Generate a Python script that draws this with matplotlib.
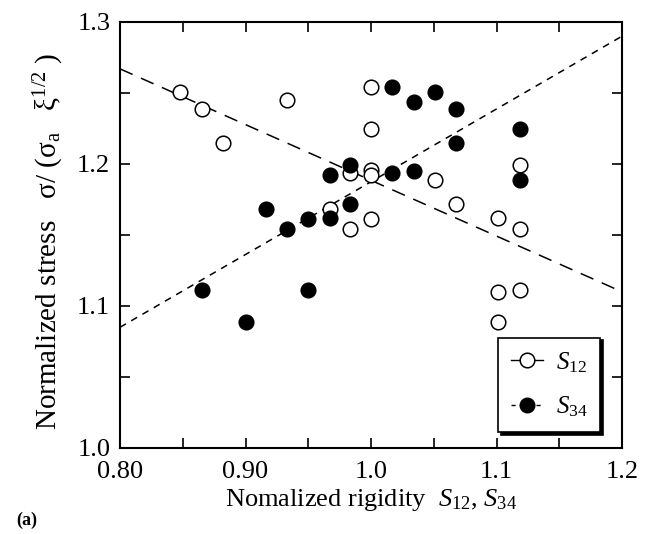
"""Normalized stress vs normalized rigidity, panel (a)."""
import numpy as np
import matplotlib
matplotlib.use("Agg")
import matplotlib.pyplot as plt
from matplotlib.lines import Line2D
from matplotlib.ticker import MultipleLocator, FixedLocator, FixedFormatter

plt.rcParams["font.family"] = ["Liberation Serif", "DejaVu Serif"]
plt.rcParams["mathtext.fontset"] = "custom"
plt.rcParams["mathtext.rm"] = "Liberation Serif"
plt.rcParams["mathtext.it"] = "Liberation Serif:italic"

# S12 (open circles)
s12_x = [0.848, 0.865, 0.882, 0.933, 1.000, 1.000, 1.000, 1.000, 0.983, 0.967,
         0.983, 1.000, 1.051, 1.068, 1.101, 1.119, 1.119, 1.101, 1.119, 1.101]
s12_y = [1.251, 1.239, 1.215, 1.245, 1.254, 1.225, 1.196, 1.192, 1.194, 1.168,
         1.154, 1.161, 1.189, 1.172, 1.162, 1.154, 1.199, 1.110, 1.111, 1.089]

# S34 (filled circles)
s34_x = [0.865, 0.900, 0.916, 0.933, 0.950, 0.950, 0.967, 0.967, 0.983, 0.983,
         1.017, 1.034, 1.051, 1.068, 1.068, 1.017, 1.034, 1.119, 1.119]
s34_y = [1.111, 1.089, 1.168, 1.154, 1.161, 1.111, 1.162, 1.192, 1.199, 1.172,
         1.254, 1.244, 1.251, 1.239, 1.215, 1.194, 1.195, 1.225, 1.189]

# fitted lines (value at x = 0.8 and x = 1.2)
fit_x = [0.80, 1.20]
fit_s12 = [1.267, 1.110]
fit_s34 = [1.085, 1.290]

fig = plt.figure(figsize=(6.52, 5.34), dpi=100)
ax = fig.add_axes([120 / 652, 1 - 448 / 534, 502 / 652, 426 / 534])

ax.plot(fit_x, fit_s12, color="black", lw=1.1, dashes=(9, 6))
ax.plot(fit_x, fit_s34, color="black", lw=1.1, dashes=(4.5, 4))

ax.plot(s12_x, s12_y, "o", ms=10.5, mfc="white", mec="black", mew=1.1)
ax.plot(s34_x, s34_y, "o", ms=10.5, mfc="black", mec="black", mew=1.1)

ax.set_xlim(0.80, 1.20)
ax.set_ylim(1.0, 1.3)
ax.xaxis.set_major_locator(FixedLocator([0.80, 0.90, 1.0, 1.1, 1.2]))
ax.xaxis.set_major_formatter(FixedFormatter(["0.80", "0.90", "1.0", "1.1", "1.2"]))
ax.xaxis.set_minor_locator(MultipleLocator(0.05))
ax.yaxis.set_major_locator(MultipleLocator(0.1))
ax.yaxis.set_major_formatter(plt.FormatStrFormatter("%.1f"))
ax.yaxis.set_minor_locator(MultipleLocator(0.05))
ax.tick_params(which="both", direction="in", top=True, right=True,
               length=7, width=1.2, labelsize=19)
ax.tick_params(axis="x", pad=9)
ax.tick_params(axis="y", pad=7)
for sp in ax.spines.values():
    sp.set_linewidth(1.5)

ax.set_xlabel(r"Nomalized rigidity  $\mathit{S}_{12}$, $\mathit{S}_{34}$",
              fontsize=19, labelpad=3)
ax.set_ylabel(r"Normalized stress   σ/ (σ$_{\rm a}$   ξ$^{1/2}$ )",
              fontsize=21, labelpad=8)
ax.yaxis.label.set_y(0.485)

handles = [
    Line2D([], [], color="black", lw=1.0, marker="o", ms=10.5,
           mfc="white", mec="black", mew=1.1),
    Line2D([], [], color="black", lw=1.0, dashes=(3, 3), marker="o", ms=10.5,
           mfc="black", mec="black"),
]
leg = ax.legend(handles, [r"$\mathit{S}_{12}$", r"$\mathit{S}_{34}$"],
                loc="lower right", bbox_to_anchor=(0.956, 0.038),
                borderaxespad=0, fontsize=18, frameon=True, fancybox=False,
                shadow={"color": "black", "alpha": 1},
                handlelength=1.3, borderpad=0.5, labelspacing=0.8,
                handletextpad=0.5)
leg.get_frame().set_edgecolor("black")
leg.get_frame().set_linewidth(1.2)

fig.text(27 / 652, 1 - 520 / 534, "(a)", fontsize=13, fontweight="bold",
         ha="center", va="center")

fig.savefig("out.png", dpi=100)
